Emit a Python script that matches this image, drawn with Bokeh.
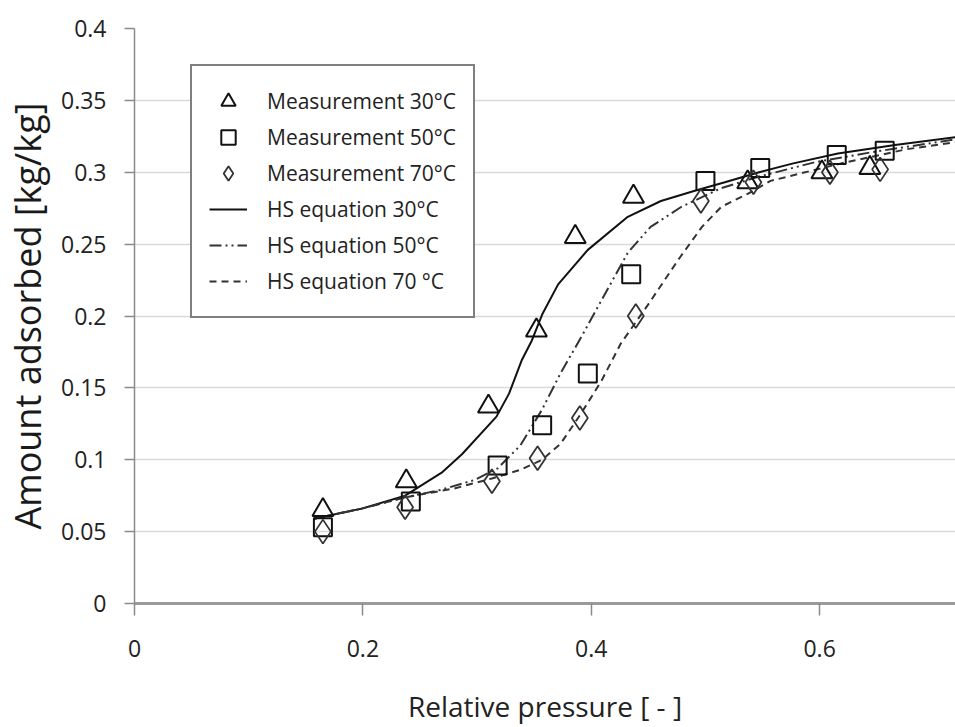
from bokeh.plotting import figure
from bokeh.models import Legend, LegendItem, FixedTicker
from bokeh.embed import file_html
from bokeh.resources import INLINE

# ---- data ----
x_meas30 = [0.165, 0.238, 0.310, 0.352, 0.386, 0.437, 0.537, 0.602, 0.644]
y_meas30 = [0.065, 0.085, 0.137, 0.190, 0.255, 0.283, 0.293, 0.300, 0.303]

x_meas50 = [0.165, 0.242, 0.318, 0.357, 0.397, 0.435, 0.500, 0.548, 0.615, 0.657]
y_meas50 = [0.053, 0.071, 0.096, 0.124, 0.160, 0.229, 0.294, 0.303, 0.312, 0.315]

x_meas70 = [0.165, 0.237, 0.313, 0.353, 0.390, 0.439, 0.496, 0.542, 0.609, 0.653]
y_meas70 = [0.050, 0.067, 0.085, 0.101, 0.129, 0.200, 0.280, 0.293, 0.300, 0.302]

x_hs30 = [0.157, 0.199, 0.237, 0.269, 0.287, 0.317, 0.328, 0.339, 0.348, 0.357,
          0.371, 0.397, 0.432, 0.461, 0.490, 0.517, 0.547, 0.576, 0.616, 0.666, 0.72]
y_hs30 = [0.059, 0.066, 0.075, 0.091, 0.104, 0.130, 0.146, 0.169, 0.183, 0.201,
          0.222, 0.246, 0.269, 0.280, 0.287, 0.293, 0.300, 0.306, 0.313, 0.319, 0.3245]

x_hs50 = [0.157, 0.199, 0.238, 0.268, 0.298, 0.318, 0.338, 0.357, 0.373, 0.391,
          0.409, 0.432, 0.452, 0.479, 0.514, 0.547, 0.596, 0.646, 0.72]
y_hs50 = [0.059, 0.066, 0.074, 0.079, 0.086, 0.094, 0.110, 0.135, 0.160, 0.185,
          0.211, 0.244, 0.262, 0.276, 0.289, 0.297, 0.307, 0.314, 0.323]

x_hs70 = [0.157, 0.199, 0.238, 0.280, 0.313, 0.338, 0.357, 0.373, 0.391, 0.409,
          0.426, 0.449, 0.477, 0.497, 0.514, 0.537, 0.557, 0.618, 0.676, 0.72]
y_hs70 = [0.059, 0.066, 0.074, 0.080, 0.087, 0.093, 0.100, 0.111, 0.132, 0.155,
          0.181, 0.207, 0.240, 0.262, 0.276, 0.285, 0.294, 0.306, 0.316, 0.321]

x_ticks = [0, 0.2, 0.4, 0.6]
x_tick_labels = ["0", "0.2", "0.4", "0.6"]
y_ticks = [0, 0.05, 0.1, 0.15, 0.2, 0.25, 0.3, 0.35, 0.4]
y_tick_labels = ["0", "0.05", "0.1", "0.15", "0.2", "0.25", "0.3", "0.35", "0.4"]

labels = ["Measurement 30°C", "Measurement 50°C", "Measurement 70°C",
          "HS equation 30°C", "HS equation 50°C", "HS equation 70 °C"]

x_title = "Relative pressure [ - ]"
y_title = "Amount adsorbed [kg/kg]"

FONT = "Open Sans"

p = figure(width=955, height=727, output_backend="svg", toolbar_location=None,
           x_range=(0, 0.719), y_range=(0, 0.4),
           min_border_left=131, min_border_right=0,
           min_border_top=28, min_border_bottom=124)
p.outline_line_color = None
p.background_fill_color = "white"
p.border_fill_color = "white"

# grid
p.xgrid.visible = False
p.ygrid.ticker = FixedTicker(ticks=y_ticks)
p.ygrid.grid_line_color = "#d9d9d9"
p.ygrid.grid_line_width = 1.5

# axes
xa = p.xaxis[0]
xa.ticker = FixedTicker(ticks=x_ticks)
xa.major_label_overrides = dict(zip(x_ticks, x_tick_labels))
xa.axis_line_color = "#9a9a9a"
xa.axis_line_width = 3
xa.major_tick_line_color = "#8a8a8a"
xa.major_tick_line_width = 1.5
xa.major_tick_out = 12
xa.major_tick_in = 0
xa.minor_tick_line_color = None
xa.major_label_text_font = FONT
xa.major_label_text_font_size = "23px"
xa.major_label_text_color = "#222222"
xa.major_label_standoff = 24
xa.axis_label = x_title
xa.axis_label_text_font = FONT
xa.axis_label_text_font_size = "28px"
xa.axis_label_text_font_style = "normal"
xa.axis_label_text_color = "#222222"
xa.axis_label_standoff = 27

ya = p.yaxis[0]
ya.ticker = FixedTicker(ticks=y_ticks)
ya.major_label_overrides = dict(zip(y_ticks, y_tick_labels))
ya.axis_line_color = "#8a8a8a"
ya.axis_line_width = 1.5
ya.major_tick_line_color = "#8a8a8a"
ya.major_tick_line_width = 1.5
ya.major_tick_out = 10
ya.major_tick_in = 0
ya.minor_tick_line_color = None
ya.major_label_text_font = FONT
ya.major_label_text_font_size = "23px"
ya.major_label_text_color = "#222222"
ya.major_label_standoff = 18
ya.axis_label = y_title
ya.axis_label_text_font = FONT
ya.axis_label_text_font_size = "36px"
ya.axis_label_text_font_style = "normal"
ya.axis_label_text_color = "#1a1a1a"
ya.axis_label_standoff = 6

# curves
l30 = p.line(x_hs30, y_hs30, line_color="#111111", line_width=2)
l50 = p.line(x_hs50, y_hs50, line_color="#333333", line_width=2, line_dash="12 4 2 4 2 4")
l70 = p.line(x_hs70, y_hs70, line_color="#333333", line_width=2, line_dash="7 5")

# measurements
m30 = p.scatter(x_meas30, y_meas30, marker="triangle", size=21, fill_color=None,
                line_color="#111111", line_width=2)
m50 = p.scatter(x_meas50, y_meas50, marker="square", size=18, fill_color=None,
                line_color="#111111", line_width=2)
m70 = p.scatter(x_meas70, y_meas70, marker="diamond", size=24, fill_color=None,
                line_color="#333333", line_width=1.8)

legend = Legend(items=[
    LegendItem(label=labels[0], renderers=[m30]),
    LegendItem(label=labels[1], renderers=[m50]),
    LegendItem(label=labels[2], renderers=[m70]),
    LegendItem(label=labels[3], renderers=[l30]),
    LegendItem(label=labels[4], renderers=[l50]),
    LegendItem(label=labels[5], renderers=[l70]),
], location=(56, 285))
legend.border_line_color = "#000000"
legend.border_line_width = 2
legend.background_fill_color = "white"
legend.background_fill_alpha = 1
legend.label_text_font = FONT
legend.label_text_font_size = "21px"
legend.label_text_color = "#222222"
legend.glyph_width = 38
legend.glyph_height = 36
legend.label_height = 36
legend.spacing = 0
legend.padding = 17
legend.label_standoff = 20
legend.margin = 0
p.add_layout(legend)

open("out.html", "w").write(file_html(p, INLINE))
